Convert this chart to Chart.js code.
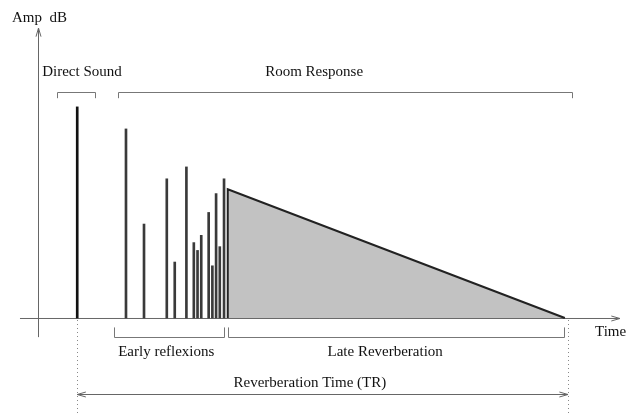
<!DOCTYPE html>
<html>
<head>
<meta charset="utf-8">
<script src="https://cdn.jsdelivr.net/npm/chart.js@4"></script>
<style>
  body { margin: 0; background: #fff; }
  canvas { display: block; }
</style>
</head>
<body>
<canvas id="chartCanvas" width="626" height="415"></canvas>
<script>
// impulse response values (time in % of TR, amplitude in arbitrary units)
const directTime = [7.4]
const directAmp = [72.8]
const reflexTime = [16.6, 20.0, 24.3, 25.8, 28.0, 29.4, 30.1, 30.8, 32.2, 32.9, 33.6, 34.3, 35.1]
const reflexAmp = [65.2, 32.4, 48.0, 19.3, 52.1, 26.0, 23.3, 28.5, 36.4, 18.0, 42.9, 24.6, 48.0]
const decayTime = [35.8, 35.8, 99.4]
const decayAmp = [0, 44.4, 0]
const trEnd = 100

// annotations, in data units
const bracketLabels = ['Direct Sound', 'Room Response', 'Early reflexions', 'Late Reverberation']
const bracketFrom = [3.6, 15.1, 14.3, 35.85]
const bracketTo = [10.75, 100.75, 35.1, 99.25]
const bracketY = [77.9, 77.9, -6.55, -6.55]
const bracketTip = [-2.1, -2.1, 3.3, 3.3]
const labelX = [8.3, 52.1, 24.2, 65.5]
const labelY = [84.8, 84.8, -11.7, -11.7]

const toPoints = (xs, ys) => xs.map((x, i) => ({x: x, y: ys[i]}))

const font = '15px "Liberation Serif", "DejaVu Serif", serif'

const drawArrowHead = (ctx, x, y, angle) => {
    const len = 9, spread = 0.28
    ctx.beginPath()
    ctx.moveTo(x - len * Math.cos(angle - spread), y - len * Math.sin(angle - spread))
    ctx.lineTo(x, y)
    ctx.lineTo(x - len * Math.cos(angle + spread), y - len * Math.sin(angle + spread))
    ctx.stroke()
}

const diagramPlugin = {
    id: 'diagram',
    beforeDatasetsDraw(chart) {
        const ctx = chart.ctx
        const xs = chart.scales.x, ys = chart.scales.y
        const px = v => xs.getPixelForValue(v)
        const py = v => ys.getPixelForValue(v)
        ctx.save()
        ctx.strokeStyle = '#666'
        ctx.lineWidth = 1
        // time axis
        ctx.beginPath()
        ctx.moveTo(px(-3.4), py(0) + 0.5)
        ctx.lineTo(px(109.8), py(0) + 0.5)
        ctx.stroke()
        drawArrowHead(ctx, px(109.8), py(0) + 0.5, 0)
        // amplitude axis
        ctx.beginPath()
        ctx.moveTo(px(0) + 0.5, py(-6.6))
        ctx.lineTo(px(0) + 0.5, py(100))
        ctx.stroke()
        drawArrowHead(ctx, px(0) + 0.5, py(100), -Math.PI / 2)
        ctx.restore()
    },
    afterDatasetsDraw(chart) {
        const ctx = chart.ctx
        const xs = chart.scales.x, ys = chart.scales.y
        const px = v => xs.getPixelForValue(v)
        const py = v => ys.getPixelForValue(v)
        ctx.save()
        // brackets
        ctx.strokeStyle = '#777'
        ctx.lineWidth = 1
        bracketFrom.forEach((from, i) => {
            const y = Math.round(py(bracketY[i])) + 0.5
            const tip = py(bracketY[i] + bracketTip[i])
            ctx.beginPath()
            ctx.moveTo(Math.round(px(from)) + 0.5, tip)
            ctx.lineTo(Math.round(px(from)) + 0.5, y)
            ctx.lineTo(Math.round(px(bracketTo[i])) + 0.5, y)
            ctx.lineTo(Math.round(px(bracketTo[i])) + 0.5, tip)
            ctx.stroke()
        })
        // dotted TR limits
        ctx.strokeStyle = '#888'
        ctx.setLineDash([1, 3])
        ;[directTime[0], trEnd].forEach(t => {
            ctx.beginPath()
            ctx.moveTo(Math.round(px(t)) + 0.5, py(0) + 2)
            ctx.lineTo(Math.round(px(t)) + 0.5, chart.height)
            ctx.stroke()
        })
        ctx.setLineDash([])
        // TR double arrow
        ctx.strokeStyle = '#666'
        const ay = Math.round(py(-26.2)) + 0.5
        ctx.beginPath()
        ctx.moveTo(px(directTime[0]), ay)
        ctx.lineTo(px(trEnd), ay)
        ctx.stroke()
        drawArrowHead(ctx, px(directTime[0]), ay, Math.PI)
        drawArrowHead(ctx, px(trEnd), ay, 0)
        // texts
        ctx.fillStyle = '#111'
        ctx.font = font
        ctx.textBaseline = 'middle'
        ctx.textAlign = 'center'
        bracketLabels.forEach((label, i) => {
            ctx.fillText(label, px(labelX[i]), py(labelY[i]))
        })
        ctx.fillText('Reverberation Time (TR)', px(51.3), py(-22.4))
        ctx.textAlign = 'left'
        ctx.fillText('Amp  dB', px(-4.9), py(103.4))
        ctx.fillText('Time', px(105.1), py(-4.8))
        ctx.restore()
    }
}

const config = {
    type: 'scatter',
    data: {
        datasets: [
            {
                type: 'line',
                label: 'Late reverberation',
                data: toPoints(decayTime, decayAmp),
                borderColor: '#222',
                borderWidth: 2,
                backgroundColor: '#c2c2c2',
                fill: 'origin',
                pointRadius: 0,
                tension: 0
            },
            {
                type: 'bar',
                label: 'Direct sound',
                data: toPoints(directTime, directAmp),
                backgroundColor: '#111',
                barThickness: 2,
                grouped: false
            },
            {
                type: 'bar',
                label: 'Early reflexions',
                data: toPoints(reflexTime, reflexAmp),
                backgroundColor: '#3a3a3a',
                barThickness: 2,
                grouped: false
            }
        ]
    },
    options: {
        responsive: false,
        animation: false,
        layout: { padding: 0 },
        plugins: {
            legend: { display: false },
            tooltip: { enabled: false }
        },
        scales: {
            x: { type: 'linear', display: false, offset: false, min: -7.17, max: 110.94 },
            y: { type: 'linear', display: false, offset: false, min: -33.45, max: 109.66 }
        }
    },
    plugins: [diagramPlugin]
}

const myChart = new Chart(document.getElementById('chartCanvas'), config)
</script>
</body>
</html>
